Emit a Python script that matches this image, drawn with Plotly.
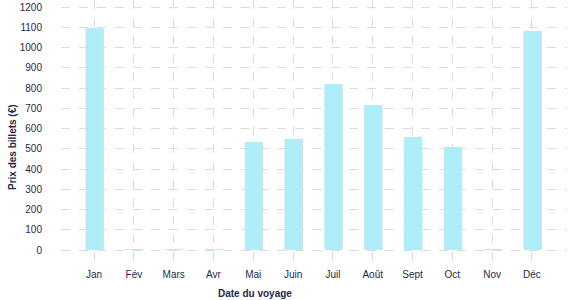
import plotly.graph_objects as go

months = ["Jan", "Fév", "Mars", "Avr", "Mai", "Juin", "Juil", "Août", "Sept", "Oct", "Nov", "Déc"]
prices = [1095, 4, 4, 4, 533, 548, 820, 716, 558, 508, 4, 1081]
y_ticks = [0, 100, 200, 300, 400, 500, 600, 700, 800, 900, 1000, 1100, 1200]

text_color = "#1f2a48"
grid_color = "#dcdcdc"
font_family = "Liberation Sans, Arial, sans-serif"
bar_w = 0.43

fig = go.Figure()
# soft shadow behind bars
fig.add_trace(go.Bar(
    x=months, y=prices, width=bar_w, offset=-bar_w / 2 + 0.035,
    marker=dict(color="#dedede", line=dict(width=0)), hoverinfo="skip", showlegend=False,
))
fig.add_trace(go.Bar(
    x=months, y=prices, width=bar_w, offset=-bar_w / 2,
    marker=dict(color="#aeeef8", line=dict(width=0)), showlegend=False,
))

fig.update_layout(
    width=577, height=300,
    margin=dict(l=61, r=10, t=0, b=37),
    barmode="overlay",
    plot_bgcolor="white", paper_bgcolor="white",
    font=dict(family=font_family, size=10, color=text_color),
    xaxis=dict(
        type="category", range=[-0.83, 11.88],
        showgrid=True, gridcolor=grid_color, griddash="dash", gridwidth=1,
        showline=False, zeroline=False, ticks="",
        tickfont=dict(size=10, color=text_color),
        ticklabelstandoff=4,
    ),
    yaxis=dict(
        range=[-64.2, 1234.6], tickmode="array", tickvals=y_ticks,
        showgrid=True, gridcolor=grid_color, griddash="dash", gridwidth=1,
        showline=False, zeroline=False, ticks="",
        tickfont=dict(size=10, color=text_color),
        ticklabelstandoff=18,
    ),
    annotations=[
        dict(text="<b>Date du voyage</b>", xref="paper", yref="paper",
             x=(255 - 61) / 506, y=-(293 - 263) / 263, xanchor="center", yanchor="middle",
             showarrow=False, font=dict(size=10, color=text_color)),
        dict(text="<b>Prix des billets (€)</b>", xref="paper", yref="paper",
             x=-(61 - 12.5) / 506, y=(263 - 147.5) / 263, xanchor="center", yanchor="middle",
             textangle=-90, showarrow=False, font=dict(size=10, color=text_color)),
    ],
)

fig.write_html("out.html")
